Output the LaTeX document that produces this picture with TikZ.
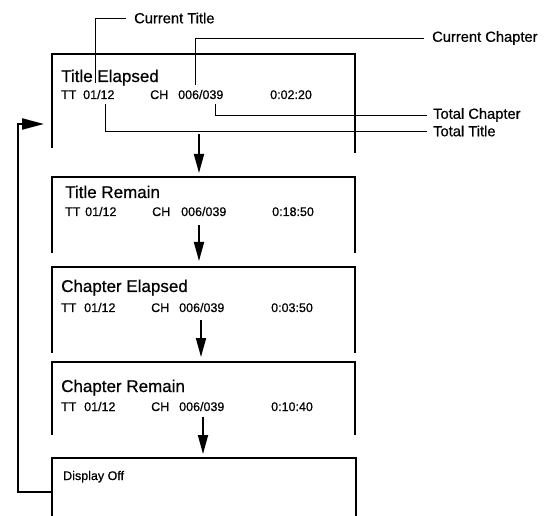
\documentclass[tikz,border=0pt]{standalone}
\usepackage{fontspec}
\setmainfont{Liberation Sans}[FakeBold=0.6]
\usetikzlibrary{arrows.meta}
\tikzset{
  boxline/.style={line width=2.4pt, line cap=butt, line join=miter},
  leader/.style={line width=0.9pt},
  flow/.style={line width=1.8pt, -{Triangle[length=19pt,width=10pt]}},
  big/.style={font=\fontsize{17}{19}\selectfont, inner sep=0pt, anchor=base west},
  small/.style={font=\fontsize{12.5}{14}\selectfont, inner sep=0pt, anchor=base west},
  lab/.style={font=\fontsize{14.7}{16}\selectfont, inner sep=0pt, anchor=west},
}
\begin{document}
\begin{tikzpicture}[x=1pt,y=-1pt]
\useasboundingbox (0,0) rectangle (547,516);
% boxes (open at the bottom)
\draw[boxline] (52,148) -- (52,54) -- (355,54) -- (355,153);
\draw[boxline] (52,253) -- (52,177) -- (355,177) -- (355,253);
\draw[boxline] (52,353) -- (52,267) -- (355,267) -- (355,353);
\draw[boxline] (52,435) -- (52,362) -- (355,362) -- (355,435);
\draw[boxline] (52,516) -- (52,458) -- (356,458) -- (356,516);
% box 1 text
\node[big] (t1) at (61,82) {Title Elapsed};
\node[small] (t1a) at (61,99) {TT};
\node[small] (t1b) at (83,99) {01/12};
\node[small] (t1c) at (150,99) {CH};
\node[small] (t1d) at (178,99) {006/039};
\node[small] (t1e) at (270,99) {0:02:20};
% box 2 text
\node[big] (t2) at (65,198) {Title Remain};
\node[small] (t2a) at (65,216) {TT};
\node[small] (t2b) at (85,216) {01/12};
\node[small] (t2c) at (152,216) {CH};
\node[small] (t2d) at (181,216) {006/039};
\node[small] (t2e) at (272,216) {0:18:50};
% box 3 text
\node[big] (t3) at (61,292) {Chapter Elapsed};
\node[small] (t3a) at (61,312) {TT};
\node[small] (t3b) at (84,312) {01/12};
\node[small] (t3c) at (151,312) {CH};
\node[small] (t3d) at (179,312) {006/039};
\node[small] (t3e) at (271,312) {0:03:50};
% box 4 text
\node[big] (t4) at (61,392) {Chapter Remain};
\node[small] (t4a) at (61,411) {TT};
\node[small] (t4b) at (84,411) {01/12};
\node[small] (t4c) at (151,411) {CH};
\node[small] (t4d) at (179,411) {006/039};
\node[small] (t4e) at (271,411) {0:10:40};
% box 5 text
\node[small] (t5) at (63,480) {Display Off};
% leader labels
\node[lab] (lct) at (134,18) {Current Title};
\node[lab] (lcc) at (432,38) {Current Chapter};
\node[lab] (ltc) at (433,115) {Total Chapter};
\node[lab] (ltt) at (433,131) {Total Title};
% leaders
\coordinate (pct) at (95,83);
\coordinate (pcc) at (195,85);
\coordinate (ptc) at (215,104);
\coordinate (ptt) at (105,104);
\draw[leader] (pct) -- (pct |- lct.west) -- ([xshift=-8pt]lct.west);
\draw[leader] (pcc) -- (pcc |- lcc.west) -- ([xshift=-8pt]lcc.west);
\draw[leader] (ptc) -- (ptc |- ltc.west) -- ([xshift=-6pt]ltc.west);
\draw[leader] (ptt) -- (ptt |- ltt.west) -- ([xshift=-6pt]ltt.west);
% flow arrows
\coordinate (a1s) at (199,134); \coordinate (a1e) at (199,173);
\coordinate (a2s) at (199,225); \coordinate (a2e) at (199,261);
\coordinate (a3s) at (201,320); \coordinate (a3e) at (201,357);
\coordinate (a4s) at (203,417); \coordinate (a4e) at (203,454);
\draw[flow] (a1s) -- (a1e);
\draw[flow] (a2s) -- (a2e);
\draw[flow] (a3s) -- (a3e);
\draw[flow] (a4s) -- (a4e);
% return loop
\coordinate (ls) at (52,492);
\coordinate (le) at (44,124);
\draw[line width=2.2pt, -{Triangle[length=22pt,width=11pt]}] (ls) -- (18,492) -- (18,124) -- (le);
\end{tikzpicture}
\end{document}
